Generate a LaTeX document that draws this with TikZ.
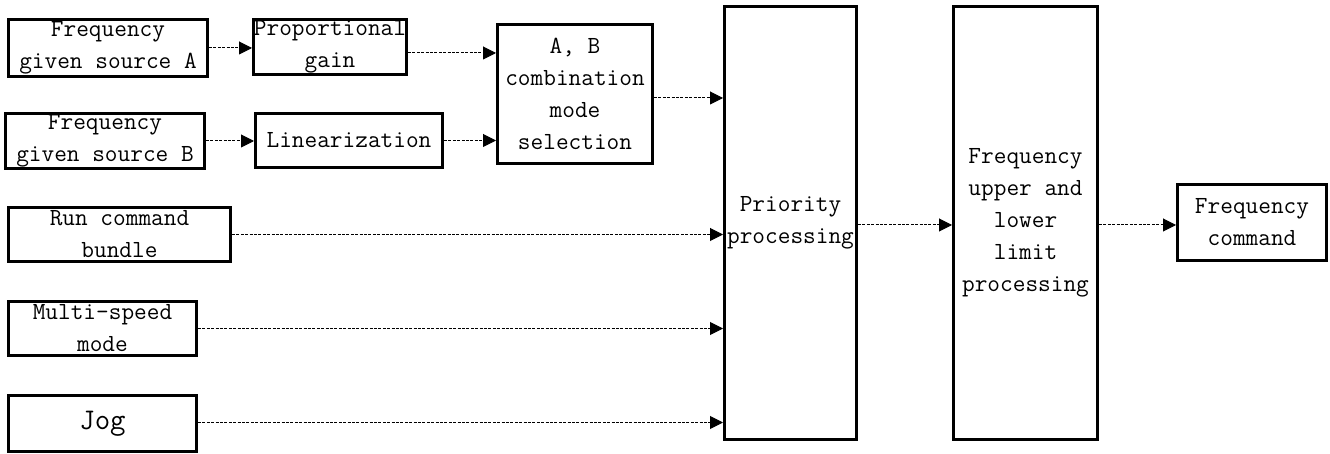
\documentclass[tikz,border=0pt]{standalone}
\usepackage{fontspec}
\usetikzlibrary{arrows.meta,positioning,calc}

\begin{document}
\begin{tikzpicture}[
    x=0.5pt, y=-0.5pt,
    font=\ttfamily\fontsize{12.3}{16}\selectfont,
    block/.style={
        draw,
        line width=1.5pt,
        inner sep=0pt,
        align=center
    },
    flow/.style={
        line width=0.5pt,
        dash pattern=on 1.5pt off 0.7pt,
        -{Triangle[length=6.5pt, width=6.5pt]}
    },
    big/.style={font=\ttfamily\fontsize{15}{17}\selectfont}
]

\useasboundingbox (0,0) rectangle (1330,454);

% Sources
\node[block, minimum width=99.5pt, minimum height=28.5pt] (srcA) at (108,48) {Frequency\\given source A};
\node[block, minimum width=99.5pt, minimum height=27.5pt] (srcB) at (105,141) {Frequency\\given source B};
\node[block, minimum width=111pt, minimum height=27pt] (run) at (119.5,234.5) {Run command\\bundle};
\node[block, minimum width=94pt, minimum height=27pt] (multi) at (102.5,328.5) {Multi-speed\\mode};
\node[block, big, minimum width=94pt, minimum height=28pt] (jog) at (102.5,423.5) {Jog};

% Middle stage
\node[block, minimum width=76.5pt, minimum height=27.5pt] (gain) at (330,47) {Proportional\\gain};
\node[block, minimum width=93.5pt, minimum height=27pt] (lin) at (349,140.5) {Linearization};
\node[block, minimum width=77.5pt, minimum height=69.5pt] (comb) at (575,94) {A, B\\combination\\mode\\selection};

% Processing
\node[block, minimum width=66pt, minimum height=216.5pt] (prio) at (790.5,223) {Priority\\processing};
\node[block, minimum width=72pt, minimum height=216.5pt] (limit) at (1025.5,223) {Frequency\\upper and\\lower\\limit\\processing};
\node[block, minimum width=74.5pt, minimum height=38pt] (cmd) at (1252,222.5) {Frequency\\command};

% Connections
\draw[flow] (srcA.east) -- (srcA.east -| gain.west);
\draw[flow] (srcB.east) -- (srcB.east -| lin.west);
\draw[flow] ([yshift=-3pt]gain.east) -- ([yshift=-3pt]gain.east -| comb.west);
\draw[flow] (lin.east) -- (lin.east -| comb.west);
\draw[flow] ([yshift=-2pt]comb.east) -- ([yshift=-2pt]comb.east -| prio.west);
\draw[flow] (run.east) -- (run.east -| prio.west);
\draw[flow] (multi.east) -- (multi.east -| prio.west);
\draw[flow] ([yshift=0.5pt]jog.east) -- ([yshift=0.5pt]jog.east -| prio.west);
\draw[flow] ([yshift=-1pt]prio.east) -- ([yshift=-1pt]prio.east -| limit.west);
\draw[flow] ([yshift=-1pt]limit.east) -- ([yshift=-1pt]limit.east -| cmd.west);

\end{tikzpicture}
\end{document}
